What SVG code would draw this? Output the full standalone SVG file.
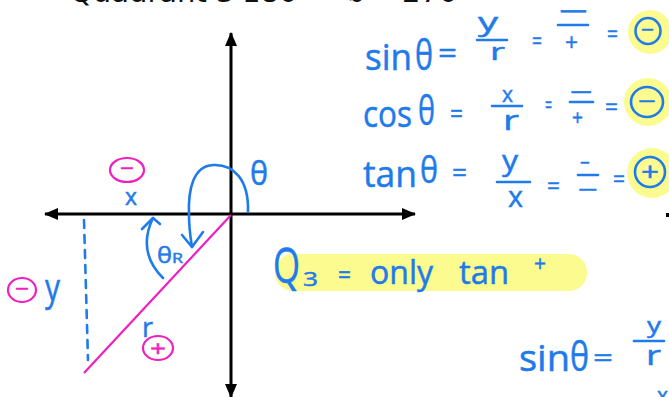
<svg xmlns="http://www.w3.org/2000/svg" width="669" height="397" viewBox="0 0 669 397">
<defs>
<marker id="ah" markerUnits="userSpaceOnUse" markerWidth="14" markerHeight="12" refX="13" refY="6" orient="auto-start-reverse">
<path d="M0,0 L14,6 L0,12 z" fill="#000"/>
</marker>
<style>
.h{font-family:"Open Sans","Liberation Sans",sans-serif;fill:#1f7bea;stroke:#1f7bea;stroke-width:0.5}
.m{font-family:"Open Sans","Liberation Sans",sans-serif;fill:#f01fc0;stroke:#f01fc0;stroke-width:0.5}
.top{font-family:"DejaVu Sans",sans-serif;font-size:29px;fill:#111}
.bl{stroke:#1f7bea;stroke-width:2.6;fill:none;stroke-linecap:round;stroke-linejoin:round}
.mg{stroke:#f01fc0;stroke-width:2.2;fill:none}
.hl{fill:#fcfb8f}
.ax{stroke:#000;stroke-width:3;fill:none}
</style>
</defs>
<rect width="669" height="397" fill="#fff"/>

<g id="title">
<text class="top" x="70" y="2">Quadrant 3</text>
<text class="top" x="242" y="2">180°</text>
<text class="top" x="330" y="2">&lt;</text>
<text class="top" x="348" y="2">θ</text>
<text class="top" x="385" y="2">&lt;</text>
<text class="top" x="402" y="2">270°</text>
</g>

<g id="highlights">
<circle class="hl" cx="650" cy="32" r="22"/>
<circle class="hl" cx="648" cy="102" r="24"/>
<circle class="hl" cx="652" cy="173" r="25"/>
<rect class="hl" x="275" y="254" width="312" height="37" rx="18"/>
</g>

<g id="axes">
<line class="ax" x1="231" y1="33" x2="231" y2="397" marker-start="url(#ah)" marker-end="url(#ah)"/>
<line class="ax" x1="45" y1="214" x2="415" y2="214" marker-start="url(#ah)" marker-end="url(#ah)"/>
<rect x="666" y="213" width="3" height="4" fill="#000"/>
</g>

<g id="triangle">
<line class="mg" x1="231" y1="215" x2="84" y2="373"/>
<line class="bl" x1="84" y1="220" x2="88" y2="360" stroke-dasharray="8 7" stroke-width="2"/>
</g>

<g id="angles">
<path class="bl" d="M248,212 C249,180 234,164 213,165 C193,166 188,190 189,215 C189,230 191,240 192,247"/>
<path class="bl" d="M182,235 L192,247 L203,232"/>
<text class="h" x="250" y="185" font-size="32" textLength="18" lengthAdjust="spacingAndGlyphs">θ</text>
<path class="bl" d="M163,278 C150,265 140,245 153,218"/>
<path class="bl" d="M142,229 L153,218 L160,224"/>
<text class="h" x="157" y="263" font-size="22" textLength="15" lengthAdjust="spacingAndGlyphs">θ</text>
<text class="h" x="172" y="263" font-size="14" textLength="11" lengthAdjust="spacingAndGlyphs">R</text>
</g>

<g id="labels">
<ellipse class="mg" cx="127" cy="170" rx="17" ry="12"/>
<text class="m" x="120" y="176" font-size="22" textLength="14" lengthAdjust="spacingAndGlyphs">−</text>
<text class="h" x="125" y="205" font-size="24" textLength="12" lengthAdjust="spacingAndGlyphs">x</text>
<ellipse class="mg" cx="22" cy="290" rx="14" ry="12"/>
<text class="m" x="15" y="296" font-size="20" textLength="14" lengthAdjust="spacingAndGlyphs">−</text>
<text class="h" x="45" y="301" font-size="38" textLength="15" lengthAdjust="spacingAndGlyphs">y</text>
<text class="h" x="142" y="337" font-size="28" textLength="11" lengthAdjust="spacingAndGlyphs">r</text>
<ellipse class="mg" cx="158" cy="348" rx="15" ry="12"/>
<text class="m" x="150" y="356" font-size="22" textLength="16" lengthAdjust="spacingAndGlyphs">+</text>
</g>

<g id="sin-eq">
<text class="h" x="365" y="70" font-size="36" textLength="47" lengthAdjust="spacingAndGlyphs">sin</text>
<text class="h" x="415" y="70" font-size="42" textLength="18" lengthAdjust="spacingAndGlyphs">θ</text>
<text class="h" x="438" y="63" font-size="30" textLength="19" lengthAdjust="spacingAndGlyphs">=</text>
<text class="h" x="478" y="31" font-size="26" textLength="20" lengthAdjust="spacingAndGlyphs">y</text>
<line class="bl" x1="477" y1="40" x2="507" y2="40"/>
<text class="h" x="490" y="60" font-size="24" textLength="15" lengthAdjust="spacingAndGlyphs">r</text>
<text class="h" x="532" y="49" font-size="24" textLength="10" lengthAdjust="spacingAndGlyphs">=</text>
<text class="h" x="558" y="22" font-size="30" textLength="30" lengthAdjust="spacingAndGlyphs">−</text>
<line class="bl" x1="558" y1="25" x2="588" y2="25"/>
<text class="h" x="565" y="51" font-size="24" textLength="13" lengthAdjust="spacingAndGlyphs">+</text>
<text class="h" x="607" y="42" font-size="24" textLength="11" lengthAdjust="spacingAndGlyphs">=</text>
<ellipse class="bl" cx="648" cy="31" rx="12.5" ry="13"/>
<text class="h" x="641" y="37" font-size="20" textLength="13" lengthAdjust="spacingAndGlyphs">−</text>
</g>

<g id="cos-eq">
<text class="h" x="363" y="127" font-size="36" textLength="49" lengthAdjust="spacingAndGlyphs">cos</text>
<text class="h" x="418" y="125" font-size="40" textLength="17" lengthAdjust="spacingAndGlyphs">θ</text>
<text class="h" x="450" y="123" font-size="28" textLength="13" lengthAdjust="spacingAndGlyphs">=</text>
<text class="h" x="502" y="102" font-size="22" textLength="11" lengthAdjust="spacingAndGlyphs">x</text>
<line class="bl" x1="492" y1="106" x2="522" y2="106"/>
<text class="h" x="503" y="130" font-size="28" textLength="16" lengthAdjust="spacingAndGlyphs">r</text>
<text class="h" x="545" y="113" font-size="24" textLength="7" lengthAdjust="spacingAndGlyphs">=</text>
<text class="h" x="570" y="102" font-size="28" textLength="23" lengthAdjust="spacingAndGlyphs">−</text>
<line class="bl" x1="570" y1="102" x2="593" y2="102"/>
<text class="h" x="572" y="125" font-size="22" textLength="11" lengthAdjust="spacingAndGlyphs">+</text>
<text class="h" x="605" y="115" font-size="24" textLength="13" lengthAdjust="spacingAndGlyphs">=</text>
<ellipse class="bl" cx="647" cy="102" rx="16" ry="15"/>
<text class="h" x="638" y="109" font-size="22" textLength="18" lengthAdjust="spacingAndGlyphs">−</text>
</g>

<g id="tan-eq">
<text class="h" x="363" y="187" font-size="36" textLength="54" lengthAdjust="spacingAndGlyphs">tan</text>
<text class="h" x="420" y="183" font-size="36" textLength="18" lengthAdjust="spacingAndGlyphs">θ</text>
<text class="h" x="452" y="182" font-size="28" textLength="15" lengthAdjust="spacingAndGlyphs">=</text>
<text class="h" x="502" y="170" font-size="28" textLength="16" lengthAdjust="spacingAndGlyphs">y</text>
<line class="bl" x1="497" y1="182" x2="530" y2="182"/>
<text class="h" x="508" y="207" font-size="30" textLength="15" lengthAdjust="spacingAndGlyphs">x</text>
<text class="h" x="547" y="194" font-size="24" textLength="13" lengthAdjust="spacingAndGlyphs">=</text>
<text class="h" x="580" y="171" font-size="24" textLength="10" lengthAdjust="spacingAndGlyphs">−</text>
<line class="bl" x1="578" y1="175" x2="598" y2="175"/>
<text class="h" x="578" y="198" font-size="24" textLength="20" lengthAdjust="spacingAndGlyphs">−</text>
<text class="h" x="613" y="187" font-size="24" textLength="12" lengthAdjust="spacingAndGlyphs">=</text>
<ellipse class="bl" cx="650" cy="172" rx="15" ry="15"/>
<text class="h" x="641" y="181" font-size="26" textLength="18" lengthAdjust="spacingAndGlyphs">+</text>
</g>

<g id="q3-note">
<text class="h" x="273" y="283" font-size="50" textLength="27" lengthAdjust="spacingAndGlyphs">Q</text>
<text class="h" x="303" y="286" font-size="20" textLength="15" lengthAdjust="spacingAndGlyphs">3</text>
<text class="h" x="338" y="284" font-size="26" textLength="13" lengthAdjust="spacingAndGlyphs">=</text>
<text class="h" x="370" y="284" font-size="32" textLength="63" lengthAdjust="spacingAndGlyphs">only</text>
<text class="h" x="459" y="284" font-size="32" textLength="50" lengthAdjust="spacingAndGlyphs">tan</text>
<text class="h" x="534" y="271" font-size="22" textLength="12" lengthAdjust="spacingAndGlyphs">+</text>
</g>

<g id="sin-eq-2">
<text class="h" x="519" y="371" font-size="36" textLength="51" lengthAdjust="spacingAndGlyphs">sin</text>
<text class="h" x="570" y="371" font-size="40" textLength="19" lengthAdjust="spacingAndGlyphs">θ</text>
<text class="h" x="593" y="367" font-size="26" textLength="20" lengthAdjust="spacingAndGlyphs">=</text>
<text class="h" x="647" y="333" font-size="22" textLength="14" lengthAdjust="spacingAndGlyphs">y</text>
<line class="bl" x1="634" y1="341" x2="664" y2="341"/>
<text class="h" x="646" y="365" font-size="28" textLength="15" lengthAdjust="spacingAndGlyphs">r</text>
<text class="h" x="657" y="404" font-size="24" textLength="11" lengthAdjust="spacingAndGlyphs">x</text>
</g>
</svg>
